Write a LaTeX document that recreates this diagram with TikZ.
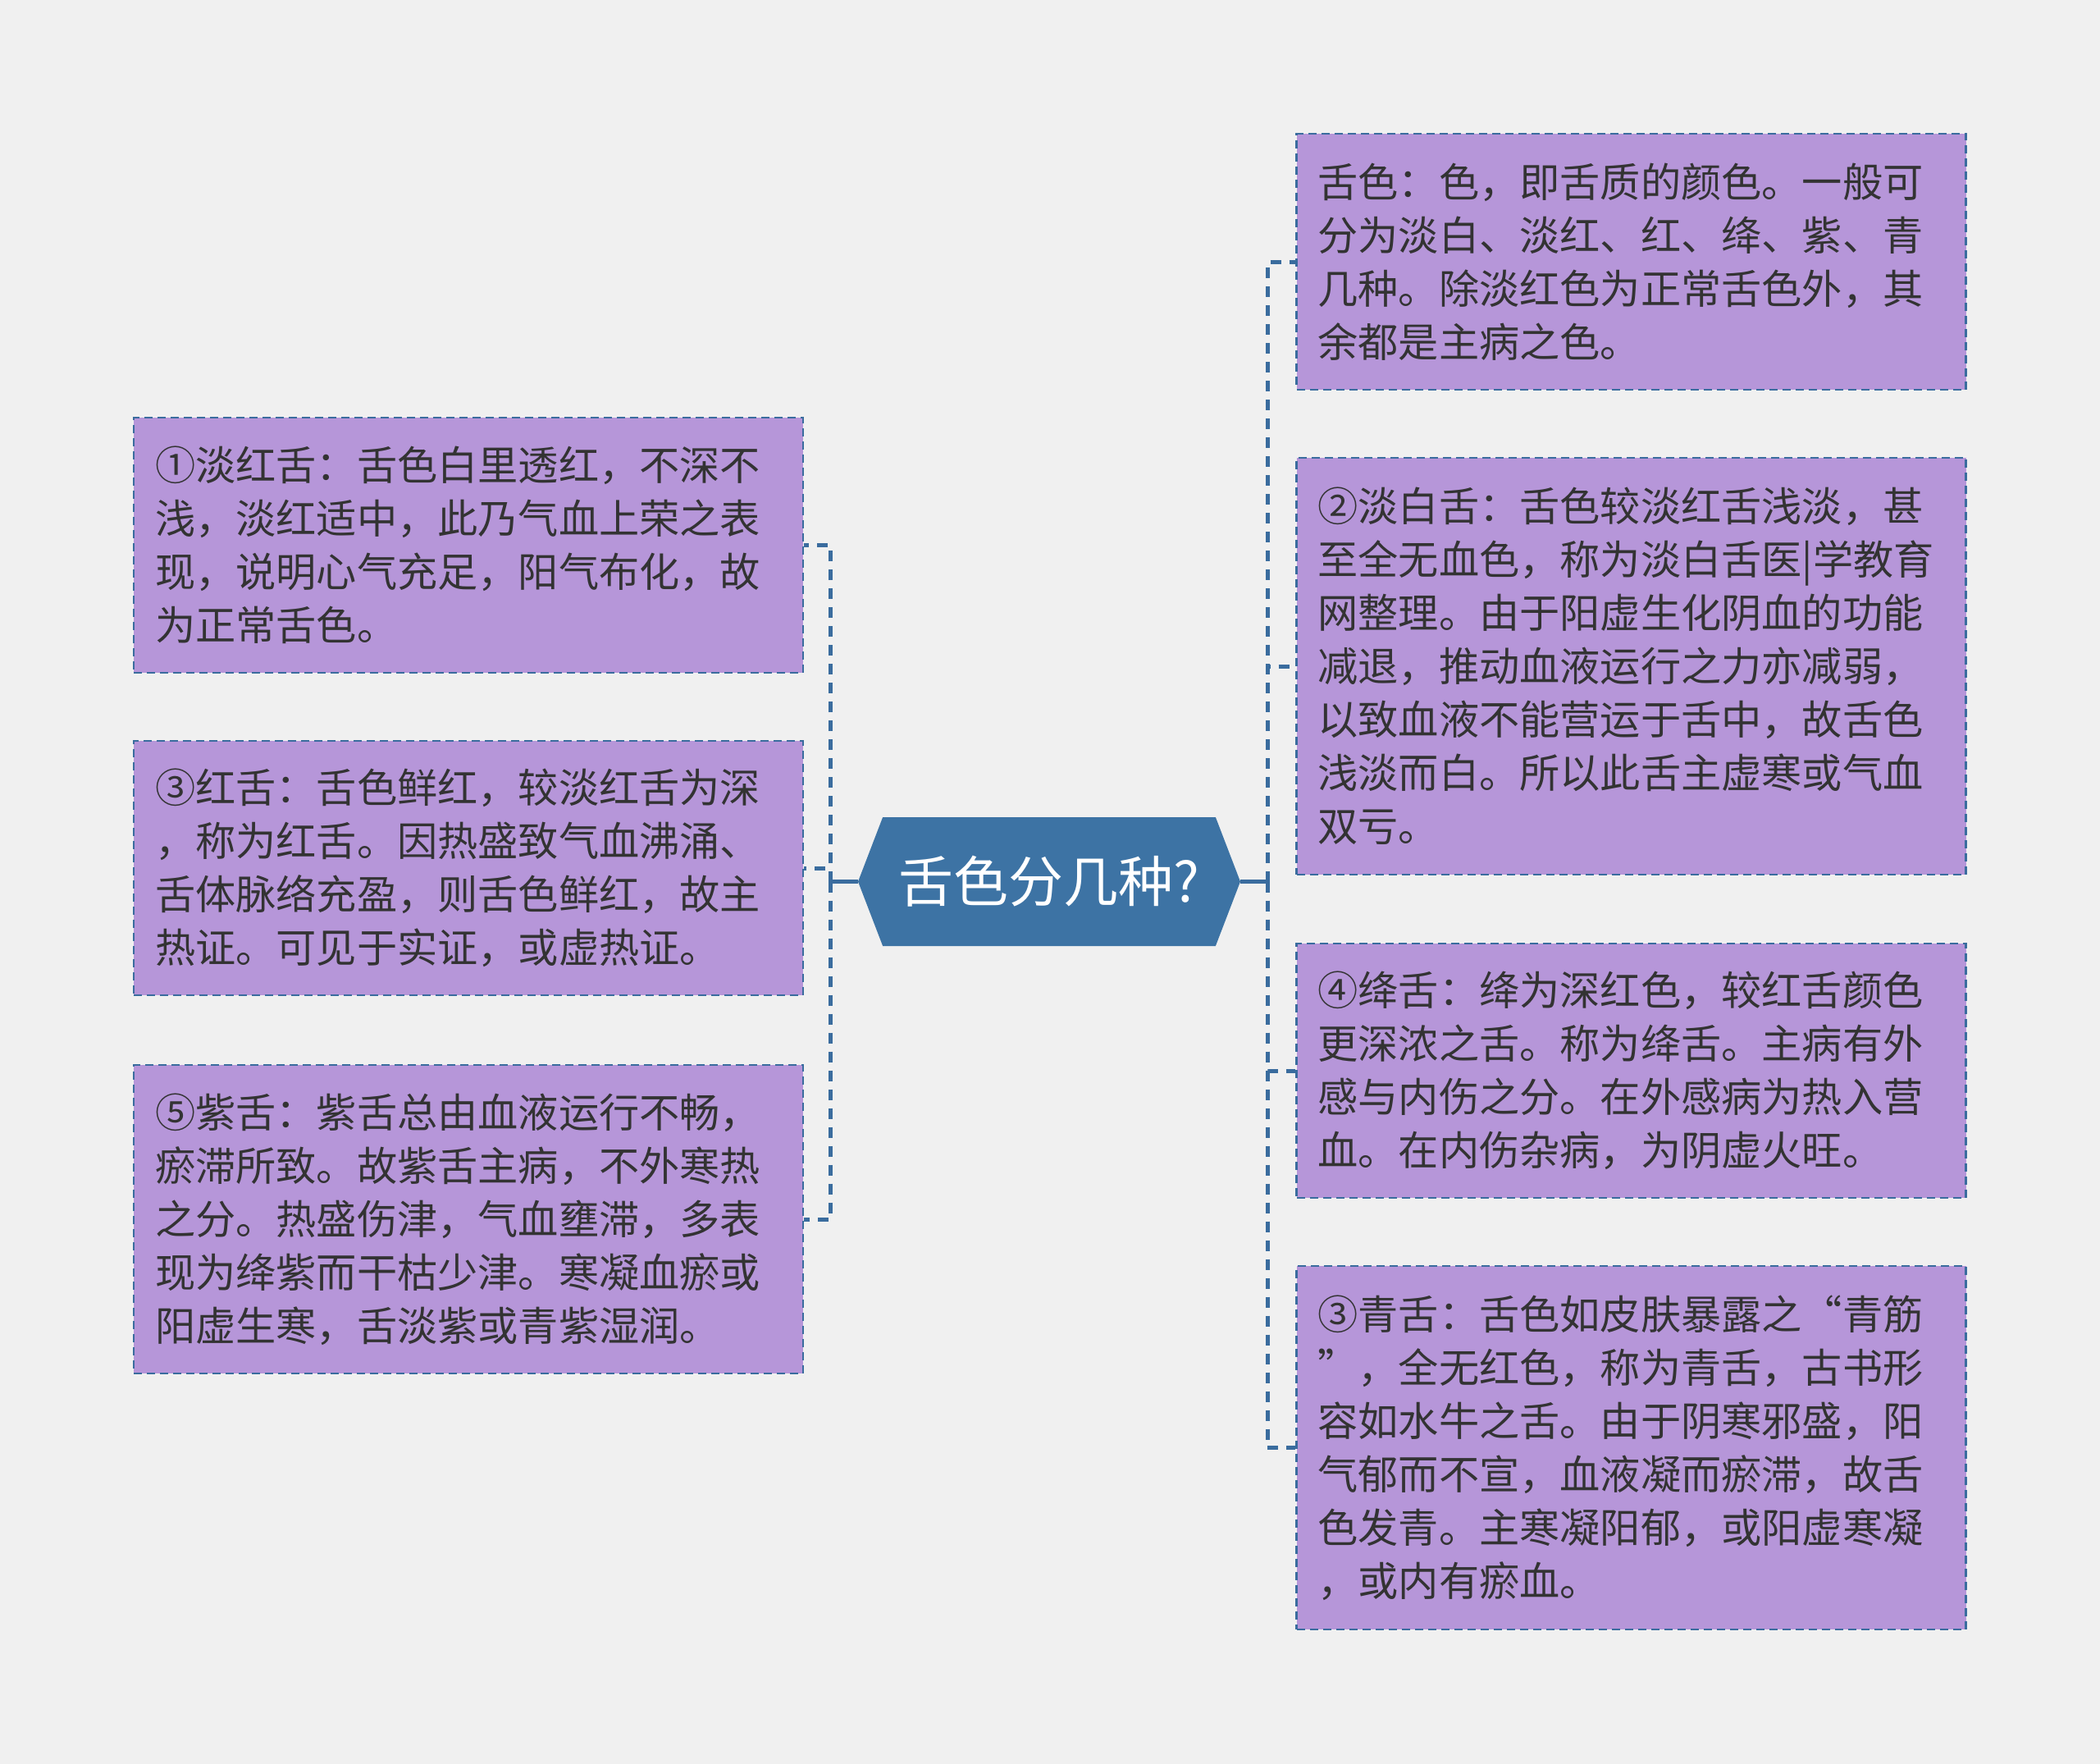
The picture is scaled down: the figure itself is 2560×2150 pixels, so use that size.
\documentclass[tikz,border=0pt]{standalone}
\usepackage{fontspec}
\setmainfont{Noto Sans CJK SC}
\usetikzlibrary{positioning, shapes.symbols}
\definecolor{bgcol}{HTML}{F0F0F0}
\definecolor{leafcol}{HTML}{B696D9}
\definecolor{linecol}{HTML}{3A6C9E}
\definecolor{topiccol}{HTML}{3D73A4}
\definecolor{textcol}{HTML}{333333}

\begin{document}
\begin{tikzpicture}[x=1pt, y=1pt, on grid,
  topic/.style={signal, signal to=west and east, signal pointer angle=138,
    fill=topiccol, minimum width=466pt, minimum height=157pt, inner sep=0pt,
    text=white, font=\fontsize{67}{67}\selectfont},
  leaf/.style={rectangle, fill=leafcol, draw=linecol, line width=2.5pt,
    dash pattern=on 10pt off 6pt, text width=764pt, inner xsep=26pt, inner ysep=0pt,
    align=left, text=textcol, font=\fontsize{49.2}{65}\selectfont},
  link/.style={draw=linecol, line width=5pt},
  dlink/.style={link, dash pattern=on 13pt off 10pt},
  elbow/.style={to path={|- (\tikztotarget)}}]
  \fill[bgcol] (0,0) rectangle (2560,-2150);
  \node[topic] (tongue) at (1279,-1074.5) {舌色分几种?};
  % left side
  \node[leaf, minimum height=311pt] (pink) [above left=410pt and 708pt of tongue]
    {①淡红舌：舌色白里透红，不深不\\浅，淡红适中，此乃气血上荣之表\\现，说明心气充足，阳气布化，故\\为正常舌色。};
  \node[leaf, minimum height=310pt] (red) [above left=16.5pt and 708pt of tongue]
    {③红舌：舌色鲜红，较淡红舌为深\\，称为红舌。因热盛致气血沸涌、\\舌体脉络充盈，则舌色鲜红，故主\\热证。可见于实证，或虚热证。};
  \node[leaf, minimum height=376pt] (purple) [below left=411.5pt and 708pt of tongue]
    {⑤紫舌：紫舌总由血液运行不畅，\\瘀滞所致。故紫舌主病，不外寒热\\之分。热盛伤津，气血壅滞，多表\\现为绛紫而干枯少津。寒凝血瘀或\\阳虚生寒，舌淡紫或青紫湿润。};
  % right side
  \node[leaf, minimum height=312pt] (intro) [above right=755.5pt and 709.5pt of tongue]
    {舌色：色，即舌质的颜色。一般可\\分为淡白、淡红、红、绛、紫、青\\几种。除淡红色为正常舌色外，其\\余都是主病之色。};
  \node[leaf, minimum height=508pt] (pale) [above right=262.5pt and 709.5pt of tongue]
    {②淡白舌：舌色较淡红舌浅淡，甚\\至全无血色，称为淡白舌医|学教育\\网整理。由于阳虚生化阴血的功能\\减退，推动血液运行之力亦减弱，\\以致血液不能营运于舌中，故舌色\\浅淡而白。所以此舌主虚寒或气血\\双亏。};
  \node[leaf, minimum height=310pt] (crimson) [below right=230.5pt and 709.5pt of tongue]
    {④绛舌：绛为深红色，较红舌颜色\\更深浓之舌。称为绛舌。主病有外\\感与内伤之分。在外感病为热入营\\血。在内伤杂病，为阴虚火旺。};
  \node[leaf, minimum height=443pt] (bluish) [below right=690pt and 709.5pt of tongue]
    {③青舌：舌色如皮肤暴露之“青筋\\”，全无红色，称为青舌，古书形\\容如水牛之舌。由于阴寒邪盛，阳\\气郁而不宣，血液凝而瘀滞，故舌\\色发青。主寒凝阳郁，或阳虚寒凝\\，或内有瘀血。};
  \coordinate[left=33pt of tongue.west] (lt);
  \coordinate[right=33pt of tongue.east] (rt);
  \path[link] (tongue.west) edge (lt)
              (tongue.east) edge (rt);
  \path[dlink]
(lt) edge [elbow] (pink.east)
(lt) edge [elbow] (red.east)
(lt) edge [elbow] (purple.east)
(rt) edge [elbow] (intro.west)
(rt) edge [elbow] (pale.west)
(rt) edge [elbow] (crimson.west)
(rt) edge [elbow] (bluish.west)
  ;
\end{tikzpicture}
\end{document}
